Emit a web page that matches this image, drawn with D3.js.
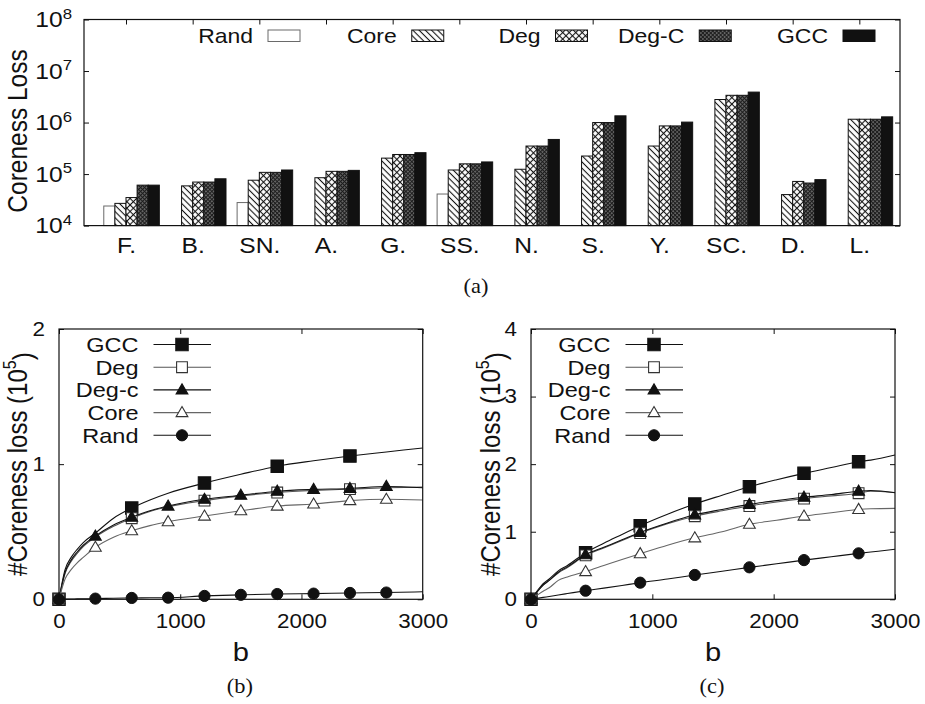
<!DOCTYPE html>
<html>
<head>
<meta charset="utf-8">
<script src="https://cdn.jsdelivr.net/npm/d3@7"></script>
<style>
  html, body { margin: 0; padding: 0; background: #fff; }
  svg { display: block; }
</style>
</head>
<body>
<svg id="fig" width="925" height="704"></svg>
<script>
// ---------------- (a) coreness loss per dataset (log scale) ----------------
const categories = ["F.", "B.", "SN.", "A.", "G.", "SS.", "N.", "S.", "Y.", "SC.", "D.", "L."];
const methods = ["Rand", "Core", "Deg", "Deg-C", "GCC"];
const randLoss  = [2.4e4, null, 2.8e4, null, null, 4.1e4, null, null, null, null, null, null];
const coreLoss  = [2.7e4, 5.9e4, 7.6e4, 8.5e4, 2.04e5, 1.2e5, 1.24e5, 2.24e5, 3.5e5, 2.8e6, 4.0e4, 1.16e6];
const degLoss   = [3.5e4, 7.0e4, 1.08e5, 1.13e5, 2.4e5, 1.58e5, 3.5e5, 1.0e6, 8.6e5, 3.38e6, 7.2e4, 1.16e6];
const degCLoss  = [6.1e4, 7.0e4, 1.08e5, 1.13e5, 2.4e5, 1.58e5, 3.5e5, 1.0e6, 8.6e5, 3.38e6, 6.7e4, 1.16e6];
const gccLoss   = [6.1e4, 8.1e4, 1.2e5, 1.18e5, 2.6e5, 1.72e5, 4.7e5, 1.35e6, 1.02e6, 3.9e6, 7.8e4, 1.29e6];
const lossDecades = [4, 5, 6, 7, 8];

// ---------------- (b) coreness loss vs budget, first dataset (x 10^5) ----------------
const budgetB = [0, 50, 100, 150, 200, 300, 450, 600, 750, 900, 1200, 1500, 1800, 2100, 2400, 2700, 3000];
const gccB  = [0, 0.22, 0.31, 0.37, 0.42, 0.49, 0.60, 0.675, 0.735, 0.785, 0.86, 0.925, 0.985, 1.025, 1.06, 1.09, 1.12];
const degB  = [0, 0.19, 0.28, 0.34, 0.39, 0.46, 0.54, 0.600, 0.650, 0.685, 0.73, 0.765, 0.79, 0.805, 0.815, 0.825, 0.83];
const degcB = [0, 0.20, 0.29, 0.35, 0.40, 0.468, 0.55, 0.607, 0.655, 0.69, 0.74, 0.77, 0.80, 0.813, 0.82, 0.835, 0.825];
const coreB = [0, 0.15, 0.22, 0.27, 0.31, 0.385, 0.46, 0.507, 0.545, 0.574, 0.616, 0.655, 0.69, 0.705, 0.73, 0.74, 0.735];
const randB = [0, 0.001, 0.002, 0.003, 0.004, 0.005, 0.008, 0.010, 0.011, 0.012, 0.025, 0.033, 0.039, 0.042, 0.047, 0.05, 0.056];
const lossTicksB = [0, 1, 2];

// ---------------- (c) coreness loss vs budget, second dataset (x 10^5) ----------------
const budgetC = [0, 50, 100, 150, 225, 300, 450, 600, 750, 900, 1125, 1350, 1575, 1800, 2025, 2250, 2475, 2700, 2800, 3000];
const gccC  = [0, 0.12, 0.23, 0.30, 0.42, 0.50, 0.69, 0.83, 0.96, 1.09, 1.26, 1.41, 1.54, 1.666, 1.77, 1.864, 1.95, 2.036, 2.06, 2.135];
const degC  = [0, 0.11, 0.21, 0.28, 0.39, 0.47, 0.65, 0.76, 0.87, 0.98, 1.12, 1.23, 1.31, 1.38, 1.44, 1.49, 1.53, 1.57, 1.60, 1.58];
const degcC = [0, 0.11, 0.21, 0.28, 0.40, 0.48, 0.66, 0.77, 0.88, 0.99, 1.13, 1.25, 1.33, 1.405, 1.46, 1.51, 1.55, 1.60, 1.61, 1.577];
const coreC = [0, 0.06, 0.12, 0.17, 0.28, 0.33, 0.41, 0.50, 0.59, 0.675, 0.80, 0.91, 1.00, 1.11, 1.17, 1.232, 1.28, 1.33, 1.34, 1.346];
const randC = [0, 0.014, 0.028, 0.042, 0.064, 0.085, 0.127, 0.165, 0.205, 0.246, 0.30, 0.36, 0.415, 0.473, 0.525, 0.58, 0.63, 0.68, 0.70, 0.74];
const lossTicksC = [0, 1, 2, 3, 4];
const budgetTicks = [0, 1000, 2000, 3000];
const lineNames = ["GCC", "Deg", "Deg-c", "Core", "Rand"];

// ------------------------------------------------------------------
const SANS = "'Liberation Sans', Arial, Helvetica, sans-serif";
const SERIF = "'Liberation Serif', 'Times New Roman', serif";
const SX = 1.12;            // lettering is slightly wide
const INK = "#111";
const plain = d3.format("d");

const svg = d3.select("#fig");
const defs = svg.append("defs");

// fill patterns for the bars
function hatch(id, size, both) {
  const p = defs.append("pattern").attr("id", id)
    .attr("patternUnits", "userSpaceOnUse")
    .attr("width", size).attr("height", size)
    .attr("patternTransform", "rotate(45)");
  p.append("rect").attr("width", size).attr("height", size).attr("fill", "#fff");
  p.append("line").attr("x1", 0).attr("x2", size).attr("y1", size / 2).attr("y2", size / 2)
    .attr("stroke", INK).attr("stroke-width", 1.1);
  if (both) {
    p.append("line").attr("y1", 0).attr("y2", size).attr("x1", size / 2).attr("x2", size / 2)
      .attr("stroke", INK).attr("stroke-width", 1.1);
  }
}
hatch("pCore", 4.4, false);
hatch("pDeg", 4.6, true);
{
  const p = defs.append("pattern").attr("id", "pDegC")
    .attr("patternUnits", "userSpaceOnUse").attr("width", 2.8).attr("height", 2.8)
    .attr("patternTransform", "rotate(45)");
  p.append("rect").attr("width", 2.8).attr("height", 2.8).attr("fill", "#1c1c1c");
  p.append("rect").attr("x", 0.4).attr("y", 0.4).attr("width", 1.1).attr("height", 1.1).attr("fill", "#e8e8e8");
}

function label(g, x, y, str, opt = {}) {
  return g.append("text")
    .attr("transform", `translate(${x},${y})` + (opt.rotate ? " rotate(-90) scale(1," + SX + ")" : ` scale(${SX},1)`))
    .attr("text-anchor", opt.anchor || "middle")
    .attr("font-family", opt.family || SANS)
    .attr("font-size", opt.size || 20)
    .attr("fill", INK)
    .text(str);
}

function styleAxis(g, size) {
  g.select(".domain").remove();
  g.selectAll(".tick line").attr("stroke", INK).attr("stroke-width", 1);
  g.selectAll(".tick text")
    .attr("font-family", SANS).attr("font-size", size).attr("fill", INK)
    .attr("transform", `scale(${SX},1)`);
}

// ======================= (a) bar chart =======================
{
  const X0 = 84, X1 = 900, Y0 = 19.5, Y1 = 225.6;
  const g = svg.append("g");
  const x = d3.scaleLinear().domain([-0.63, 11.61]).range([X0, X1]);
  const y = d3.scaleLog().domain([1e4, 1e8]).range([Y1, Y0]);
  const bw = x(1 / 6) - x(0);

  const series = [
    { name: methods[0], values: randLoss, fill: "#fff",        stroke: "#6a6a6a" },
    { name: methods[1], values: coreLoss, fill: "url(#pCore)", stroke: INK },
    { name: methods[2], values: degLoss,  fill: "url(#pDeg)",  stroke: INK },
    { name: methods[3], values: degCLoss, fill: "url(#pDegC)", stroke: INK },
    { name: methods[4], values: gccLoss,  fill: INK,           stroke: INK }
  ];

  series.forEach((s, si) => {
    g.append("g").selectAll("rect")
      .data(s.values.map((v, ci) => ({ v, ci })).filter(d => d.v != null))
      .join("rect")
      .attr("x", d => x(d.ci + (si - 1.5) / 6) - bw / 2)
      .attr("width", bw)
      .attr("y", d => y(d.v))
      .attr("height", d => y(1e4) - y(d.v))
      .attr("fill", s.fill)
      .attr("stroke", s.stroke)
      .attr("stroke-width", 1);
  });

  // axes with inward ticks, mirrored on top/right
  g.append("g").attr("transform", `translate(0,${Y1})`)
    .call(d3.axisBottom(x).tickValues(d3.range(categories.length))
      .tickFormat(i => categories[i]).tickSize(-5).tickPadding(12))
    .call(a => styleAxis(a, 22));
  g.append("g").attr("transform", `translate(0,${Y0})`)
    .call(d3.axisTop(x).tickValues(d3.range(categories.length)).tickFormat("").tickSize(-5))
    .call(a => styleAxis(a, 22));
  g.append("g").attr("transform", `translate(${X0},0)`)
    .call(d3.axisLeft(y).tickValues(lossDecades.map(p => Math.pow(10, p))).tickSize(-5).tickPadding(12 / SX))
    .call(a => styleAxis(a, 22))
    .call(a => a.selectAll(".tick text").each(function (d) {
      const t = d3.select(this).text(null);
      t.append("tspan").text("10");
      t.append("tspan").attr("dy", "-0.55em").attr("font-size", 15).text(Math.round(Math.log10(d)));
    }));
  g.append("g").attr("transform", `translate(${X1},0)`)
    .call(d3.axisRight(y).tickValues(lossDecades.map(p => Math.pow(10, p))).tickFormat("").tickSize(-5))
    .call(a => styleAxis(a, 22));

  g.append("rect").attr("x", X0).attr("y", Y0).attr("width", X1 - X0).attr("height", Y1 - Y0)
    .attr("fill", "none").attr("stroke", INK).attr("stroke-width", 1.2);

  // legend
  series.forEach((s, k) => {
    const tx = 253 + k * 143.75;
    label(g, tx, 42.5, s.name, { anchor: "end", size: 20.5 });
    g.append("rect").attr("x", tx + 15).attr("y", 30).attr("width", 32).attr("height", 11.5)
      .attr("fill", s.fill).attr("stroke", s.stroke).attr("stroke-width", 1);
  });

  label(g, 18, 131, "Coreness Loss", { rotate: true, size: 24.5 }).attr("dominant-baseline", "central");
  label(g, 476, 293, "(a)", { family: SERIF, size: 20 });
}

// ======================= (b), (c) line charts =======================
function markerPath(kind, r) {
  if (kind === "square") return `M${-r},${-r}H${r}V${r}H${-r}Z`;
  const h = r * 1.8;
  return `M0,${-h * 0.6}L${r * 1.05},${h * 0.4}L${-r * 1.05},${h * 0.4}Z`;
}

function drawMarker(g, kind, filled, cx, cy) {
  if (kind === "circle") {
    g.append("circle").attr("cx", cx).attr("cy", cy).attr("r", 5.6)
      .attr("fill", INK).attr("stroke", INK);
    return;
  }
  const r = kind === "square" ? (filled ? 6.2 : 5.4) : 5.6;
  g.append("path").attr("d", markerPath(kind, r))
    .attr("transform", `translate(${cx},${cy})`)
    .attr("fill", filled ? INK : "#fff")
    .attr("stroke", filled ? INK : "#333")
    .attr("stroke-width", 1.1);
}

function linePanel(cfg) {
  const { X0, X1, Y0, Y1 } = cfg;
  const g = svg.append("g");
  const x = d3.scaleLinear().domain([0, 3000]).range([X0, X1]);
  const y = d3.scaleLinear().domain([0, d3.max(cfg.yTicks)]).range([Y1, Y0]);

  g.append("g").attr("transform", `translate(0,${Y1})`)
    .call(d3.axisBottom(x).tickValues(budgetTicks).tickFormat(plain).tickSize(-5).tickPadding(15))
    .call(a => styleAxis(a, 20));
  g.append("g").attr("transform", `translate(0,${Y0})`)
    .call(d3.axisTop(x).tickValues(budgetTicks).tickFormat("").tickSize(-5))
    .call(a => styleAxis(a, 20));
  g.append("g").attr("transform", `translate(${X0},0)`)
    .call(d3.axisLeft(y).tickValues(cfg.yTicks).tickFormat(plain).tickSize(-5).tickPadding(14 / SX))
    .call(a => styleAxis(a, 20));
  g.append("g").attr("transform", `translate(${X1},0)`)
    .call(d3.axisRight(y).tickValues(cfg.yTicks).tickFormat("").tickSize(-5))
    .call(a => styleAxis(a, 20));

  const line = d3.line().x(d => x(d[0])).y(d => y(d[1])).curve(d3.curveMonotoneX);
  const plot = g.append("g");

  cfg.series.forEach(s => {
    const pts = cfg.budget.map((b, i) => [b, s.values[i]]);
    plot.append("path").datum(pts).attr("d", line)
      .attr("fill", "none").attr("stroke", s.color).attr("stroke-width", 1.1);
    pts.filter(p => p[0] % s.every === 0 && p[0] < 3000)
      .forEach(p => drawMarker(plot, s.kind, s.filled, x(p[0]), y(p[1])));
  });

  g.append("rect").attr("x", X0).attr("y", Y0).attr("width", X1 - X0).attr("height", Y1 - Y0)
    .attr("fill", "none").attr("stroke", INK).attr("stroke-width", 1.2);

  // legend
  cfg.series.forEach((s, k) => {
    const ly = Y0 + 15.5 + k * 22.7;
    label(g, X0 + 79.5, ly + 7.5, s.name, { anchor: "end", size: 21 });
    g.append("line").attr("x1", X0 + 94.5).attr("x2", X0 + 152).attr("y1", ly).attr("y2", ly)
      .attr("stroke", s.color).attr("stroke-width", 1.1);
    drawMarker(g, s.kind, s.filled, X0 + 123, ly);
  });

  label(g, (X0 + X1) / 2, 661, "b", { size: 26 });
  const yl = g.append("text")
    .attr("transform", `translate(${cfg.ylabX},${(Y0 + Y1) / 2}) rotate(-90) scale(1,${SX})`)
    .attr("text-anchor", "middle").attr("dominant-baseline", "central")
    .attr("font-family", SANS).attr("font-size", 24).attr("fill", INK);
  yl.append("tspan").text("#Coreness loss (10");
  yl.append("tspan").attr("dy", "-0.45em").attr("font-size", 16).text("5");
  yl.append("tspan").attr("dy", "0.45em").text(")");
  label(g, (X0 + X1) / 2 - 1, 693, cfg.caption, { family: SERIF, size: 20 });
}

linePanel({
  X0: 59, X1: 422.7, Y0: 329, Y1: 599.3, yTicks: lossTicksB, budget: budgetB,
  ylabX: 18, caption: "(b)",
  series: [
    { name: lineNames[0], values: gccB,  kind: "square",   filled: true,  color: INK,    every: 600 },
    { name: lineNames[1], values: degB,  kind: "square",   filled: false, color: "#555", every: 600 },
    { name: lineNames[2], values: degcB, kind: "triangle", filled: true,  color: INK,    every: 300 },
    { name: lineNames[3], values: coreB, kind: "triangle", filled: false, color: "#666", every: 300 },
    { name: lineNames[4], values: randB, kind: "circle",   filled: true,  color: INK,    every: 300 }
  ]
});

linePanel({
  X0: 531, X1: 895, Y0: 329, Y1: 599.3, yTicks: lossTicksC, budget: budgetC,
  ylabX: 491, caption: "(c)",
  series: [
    { name: lineNames[0], values: gccC,  kind: "square",   filled: true,  color: INK,    every: 450 },
    { name: lineNames[1], values: degC,  kind: "square",   filled: false, color: "#555", every: 450 },
    { name: lineNames[2], values: degcC, kind: "triangle", filled: true,  color: INK,    every: 450 },
    { name: lineNames[3], values: coreC, kind: "triangle", filled: false, color: "#666", every: 450 },
    { name: lineNames[4], values: randC, kind: "circle",   filled: true,  color: INK,    every: 450 }
  ]
});
</script>
</body>
</html>
